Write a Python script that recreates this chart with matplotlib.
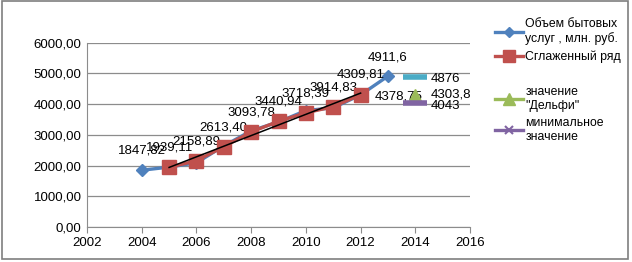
import matplotlib.pyplot as plt
import numpy as np
from matplotlib.lines import Line2D
from matplotlib.patches import Rectangle

plt.rcParams['font.family'] = ['Liberation Sans', 'DejaVu Sans']

# data
years = [2004, 2005, 2006, 2007, 2008, 2009, 2010, 2011, 2012, 2013]
volume = [1847.82, 1950, 2090, 2640, 3130, 3420, 3790, 3880, 4300, 4911.6]
smooth_years = [2005, 2006, 2007, 2008, 2009, 2010, 2011, 2012]
smooth = [1939.11, 2158.89, 2613.40, 3093.78, 3440.94, 3718.39, 3914.83, 4309.81]
smooth_labels = ['1939,11', '2158,89', '2613,40', '3093,78', '3440,94', '3718,39', '3914,83', '4309,81']
forecast_year = 2014
forecast_max = 4876
forecast_delphi = 4303.8
forecast_min = 4043
extra_year = 2013
extra_value = 4378.75

blue = '#4F81BD'
red = '#C0504D'
green = '#9BBB59'
purple = '#8064A2'
cyan = '#4BACC6'

fig = plt.figure(figsize=(6.32, 2.62), dpi=100)
ax = fig.add_axes([0.1377, 0.1336, 0.606, 0.7035])

ax.plot(years, volume, color=blue, lw=2.4, marker='D', ms=6, zorder=3)
ax.plot(smooth_years, smooth, color=red, lw=2.4, marker='s', ms=10, zorder=4)
k, b = np.polyfit(smooth_years, smooth, 1)
tx = np.array([smooth_years[0], smooth_years[-1]])
ax.plot(tx, k * tx + b, color='black', lw=1.1, zorder=5)
ax.plot([forecast_year], [forecast_max], color=cyan, marker='_', ms=17, mew=4, ls='none', zorder=4)
ax.plot([forecast_year], [forecast_delphi], color=green, marker='^', ms=8, ls='none', zorder=4)
ax.plot([forecast_year], [forecast_min], color=purple, marker='_', ms=17, mew=4, ls='none', zorder=4)

fs = 9.5
ax.annotate('1847,82', (years[0], volume[0]), xytext=(0, 12), textcoords='offset points', ha='center', fontsize=fs)
for x, y, s in zip(smooth_years, smooth, smooth_labels):
    ax.annotate(s, (x, y), xytext=(0, 12), textcoords='offset points', ha='center', fontsize=fs)
ax.annotate('4911,6', (years[-1], volume[-1]), xytext=(0, 11), textcoords='offset points', ha='center', fontsize=fs)
ax.annotate('4378,75', (extra_year, extra_value), xytext=(8, -3), textcoords='offset points', ha='center', va='center', fontsize=fs)
ax.annotate('4876', (forecast_year, forecast_max), xytext=(11, -1), textcoords='offset points', ha='left', va='center', fontsize=fs)
ax.annotate('4303,8', (forecast_year, forecast_delphi), xytext=(11, 0), textcoords='offset points', ha='left', va='center', fontsize=fs)
ax.annotate('4043', (forecast_year, forecast_min), xytext=(11, -2), textcoords='offset points', ha='left', va='center', fontsize=fs)

ax.set_xlim(2002, 2016)
ax.set_ylim(0, 6000)
ax.set_xticks(range(2002, 2017, 2))
ax.set_yticks(range(0, 6001, 1000))
ax.set_yticklabels(['%d,00' % v for v in range(0, 6001, 1000)])
ax.yaxis.grid(True, color='#8c8c8c', lw=0.9)
ax.set_axisbelow(True)
for s in ['top', 'right']:
    ax.spines[s].set_visible(False)
for s in ['left', 'bottom']:
    ax.spines[s].set_color('#8c8c8c')
ax.tick_params(axis='y', length=0, labelsize=fs, pad=4)
ax.tick_params(axis='x', length=4, color='#8c8c8c', labelsize=fs, pad=3)

handles = [
    Line2D([], [], color=blue, lw=2.4, marker='D', ms=5),
    Line2D([], [], color=red, lw=2.4, marker='s', ms=9),
    Line2D([], [], color='none'),
    Line2D([], [], color=green, lw=2.4, marker='^', ms=8),
    Line2D([], [], color=purple, lw=2.4, marker='x', ms=6, mew=1.5),
]
labels = ['Объем бытовых\nуслуг , млн. руб.', 'Сглаженный ряд', '', 'значение\n"Дельфи"', 'минимальное\nзначение']
fig.legend(handles, labels, loc='upper left', bbox_to_anchor=(0.776, 0.95), frameon=False,
           fontsize=8.8, handlelength=2.3, handletextpad=0.15, labelspacing=0.45, borderaxespad=0)

fig.add_artist(Rectangle((0.003, 0.01), 0.99, 0.985, transform=fig.transFigure, fill=False,
                         edgecolor='#7f7f7f', lw=1.2))

fig.savefig('out.png', dpi=100)
